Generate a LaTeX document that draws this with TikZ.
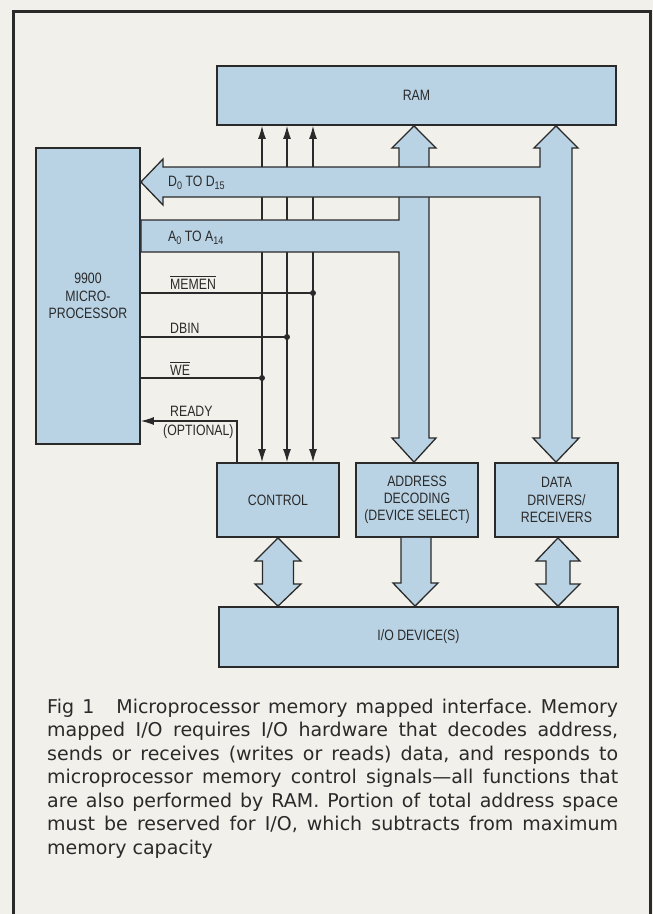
\documentclass[tikz,border=0pt]{standalone}
\usepackage{fontspec}
\usepackage{xcolor}
\usepackage{tikz}
\usetikzlibrary{arrows.meta}

\newfontfamily\capfont{DejaVu Sans}
\newfontfamily\lblfont[FakeStretch=0.82]{Liberation Sans}
\definecolor{paper}{HTML}{F2F0EA}
\definecolor{boxblue}{HTML}{B9D3E5}
\definecolor{ink}{HTML}{2A2A2A}
\newcommand{\ovl}[1]{\vbox{\hrule height 0.9pt\kern1.6pt\hbox{#1}}}
\newcommand{\sub}[1]{\raisebox{-3.5pt}{\fontsize{11}{11}\selectfont #1}}
\tolerance=9999
\hbadness=10000
\frenchspacing

\begin{document}
\begin{tikzpicture}[x=1pt, y=-1pt,
    blk/.style={rectangle, draw=ink, line width=1.8pt, fill=boxblue, inner sep=0pt,
                align=center, text=ink, font=\lblfont\fontsize{15}{17.2}\selectfont},
    bus/.style={draw=ink, line width=1.3pt, fill=boxblue, line join=miter},
    sig/.style={draw=ink, line width=1.1pt},
    lbl/.style={anchor=base west, inner sep=0pt, text=ink,
                font=\lblfont\fontsize{15}{17.2}\selectfont},
    jn/.style={circle, fill=ink, inner sep=0pt, minimum size=6pt},
    sarr/.style={-{Latex[length=13pt,width=8pt]}},
    darr/.style={{Latex[length=13pt,width=8pt]}-{Latex[length=13pt,width=8pt]}}
]
\useasboundingbox (0,0) rectangle (653,914);
\fill[paper] (0,0) rectangle (653,914);
\draw[ink, line width=3pt, line join=miter] (13,914) -- (13,11) -- (650,11) -- (650,914);

% blocks
\node[blk, minimum width=399pt, minimum height=59pt]  (ram) at (416.5,95.5) {RAM};
\node[blk, minimum width=104pt, minimum height=296pt] (mpu) at (88,296)     {9900\\MICRO-\\PROCESSOR};
\node[blk, minimum width=122pt, minimum height=74pt]  (ctl) at (278,500)    {CONTROL};
\node[blk, minimum width=122pt, minimum height=74pt]  (adr) at (417,500)    {ADDRESS\\DECODING\\(DEVICE SELECT)};
\node[blk, minimum width=123pt, minimum height=74pt]  (dat) at (556.5,500)  {DATA\\DRIVERS/\\RECEIVERS};
\node[blk, minimum width=399pt, minimum height=60pt]  (io)  at (418.5,637)  {I/O DEVICE(S)};

% control lines RAM <-> control
\foreach \x in {262,287,313}
  \draw[sig, darr] (ram.south -| \x,0) -- (ctl.north -| \x,0);
\draw[sig] (mpu.east |- 0,293) -- (313,293) node[jn] (jmem) {};
\draw[sig] (mpu.east |- 0,337) -- (287,337) node[jn] (jdbin) {};
\draw[sig] (mpu.east |- 0,378) -- (262,378) node[jn] (jwe) {};
\draw[sig, sarr] (ctl.north -| 237,0) |- (mpu.east |- 0,421);

% address bus
\draw[bus] (mpu.east |- 0,220) -- (399,220) -- (399,148) -- (392,148) -- (ram.south -| 414,0)
  -- (436,148) -- (429,148) -- (429,438) -- (436,438) -- (adr.north -| 414,0) -- (392,438)
  -- (399,438) -- (399,252) -- (mpu.east |- 0,252) -- cycle;
% data bus
\draw[bus] (mpu.east |- 0,182) -- (163,159) -- (163,167) -- (540,167) -- (540,148) -- (534,148)
  -- (ram.south -| 556,0) -- (578,148) -- (572,148) -- (572,438) -- (579,438)
  -- (dat.north -| 556,0) -- (533,438) -- (540,438) -- (540,197) -- (163,197) -- (163,205) -- cycle;

% to the I/O device
\draw[bus] (ctl.south -| 278,0) -- (301,561) -- (293.5,561) -- (293.5,584) -- (301,584)
  -- (io.north -| 278,0) -- (255,584) -- (262.5,584) -- (262.5,561) -- (255,561) -- cycle;
\draw[bus] (adr.south -| 401,0) -- (401,583) -- (393,583) -- (io.north -| 415,0) -- (438,583)
  -- (431,583) -- (adr.south -| 431,0);
\draw[bus] (dat.south -| 558,0) -- (580,561) -- (570,561) -- (570,584) -- (580,584)
  -- (io.north -| 558,0) -- (536,584) -- (546,584) -- (546,561) -- (536,561) -- cycle;

% signal names
\node[lbl] (dlbl)  at (168,186) {D\sub{0} TO D\sub{15}};
\node[lbl] (albl)  at (168,241) {A\sub{0} TO A\sub{14}};
\node[lbl] (memen) at (170,289) {\ovl{MEMEN}};
\node[lbl] (dbin)  at (170,333) {DBIN};
\node[lbl] (we)    at (170,375) {\ovl{WE}};
\node[lbl] (ready) at (170,416) {READY};
\node[lbl] (opt)   at (163,435) {(OPTIONAL)};

% caption
\node[anchor=north west, inner sep=0pt, text width=571pt, align=justify, text=ink,
      font=\capfont\fontsize{19}{23.5}\selectfont] (cap) at (47,698.5)
  {\noindent Fig 1\hspace{22pt}Microprocessor memory mapped interface. Memory\linebreak
   mapped I/O requires I/O hardware that decodes address,\linebreak
   sends or receives (writes or reads) data, and responds to\linebreak
   microprocessor memory control signals—all functions that\linebreak
   are also performed by RAM. Portion of total address space\linebreak
   must be reserved for I/O, which subtracts from maximum\linebreak
   memory capacity};
\end{tikzpicture}
\end{document}
